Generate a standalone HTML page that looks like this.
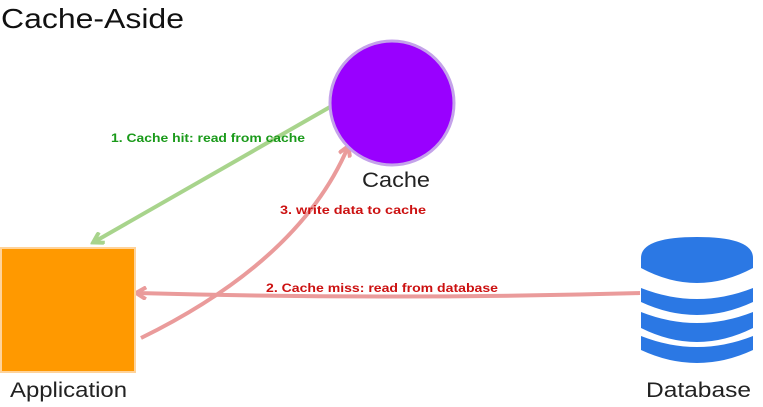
<!DOCTYPE html>
<html><head><meta charset="utf-8"><style>
html,body{margin:0;padding:0;background:#fff;}
svg{display:block;font-family:"Liberation Sans",sans-serif;}
</style></head><body>
<svg width="763" height="407" viewBox="0 0 763 407">
<defs>
<marker id="ag" markerWidth="14" markerHeight="14" refX="10" refY="7" orient="auto" markerUnits="userSpaceOnUse"><path d="M1,1 L11,7 L1,13" fill="none" stroke="#a8d48c" stroke-width="4"/></marker>
<marker id="ar" markerWidth="14" markerHeight="14" refX="10" refY="7" orient="auto" markerUnits="userSpaceOnUse"><path d="M1,1 L11,7 L1,13" fill="none" stroke="#ea9b9b" stroke-width="4"/></marker>
</defs>
<text x="1" y="28" font-size="28" fill="#111" textLength="183" lengthAdjust="spacingAndGlyphs">Cache-Aside</text>

<path d="M330,107 L94,242" stroke="#a8d48c" stroke-width="4" fill="none" marker-end="url(#ag)"/>
<path d="M640,293 Q390,300 137,293" stroke="#ea9b9b" stroke-width="4" fill="none" marker-end="url(#ar)"/>
<path d="M141,338 Q300,260 348,147" stroke="#ea9b9b" stroke-width="4" fill="none" marker-end="url(#ar)"/>

<text x="111" y="142" font-size="12" font-weight="bold" fill="#1a9a1a" textLength="194" lengthAdjust="spacingAndGlyphs">1. Cache hit: read from cache</text>
<text x="280" y="214" font-size="12" font-weight="bold" fill="#cc1111" textLength="146" lengthAdjust="spacingAndGlyphs">3. write data to cache</text>
<text x="266" y="292" font-size="12" font-weight="bold" fill="#cc1111" textLength="232" lengthAdjust="spacingAndGlyphs">2. Cache miss: read from database</text>

<circle cx="392" cy="103" r="62" fill="#9900ff" stroke="#c4a2ea" stroke-width="3"/>
<text x="362" y="187" font-size="21" fill="#222" textLength="68" lengthAdjust="spacingAndGlyphs">Cache</text>

<rect x="1" y="248" width="134" height="124" fill="#ff9900" stroke="#ffd39a" stroke-width="2"/>
<text x="10" y="397" font-size="21" fill="#222" textLength="117" lengthAdjust="spacingAndGlyphs">Application</text>

<g fill="#2b78e4">
<path d="M641,258 Q641,237 697,237 Q753,237 753,258 L753,268 Q697,298 641,268 Z"/>
<path d="M641,288 Q697,310 753,288 L753,302 Q697,328 641,302 Z"/>
<path d="M641,312 Q697,334 753,312 L753,328 Q697,356 641,328 Z"/>
<path d="M641,336 Q697,358 753,336 L753,350 Q697,376 641,350 Z"/>
</g>
<text x="646" y="397" font-size="21" fill="#222" textLength="105" lengthAdjust="spacingAndGlyphs">Database</text>
</svg>
</body></html>
